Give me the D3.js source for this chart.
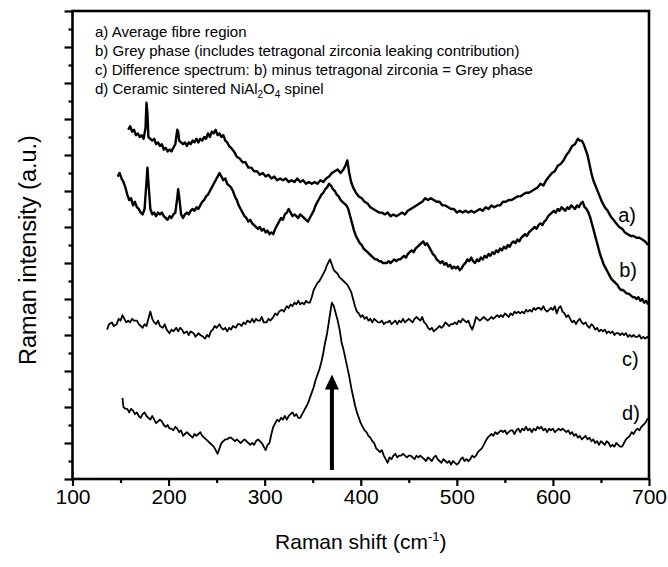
<!DOCTYPE html>
<html>
<head>
<meta charset="utf-8">
<script src="https://cdn.jsdelivr.net/npm/d3@7/dist/d3.min.js"></script>
<style>
  body { margin: 0; background: #fff; }
  svg { display: block; font-family: Arial, "Liberation Sans", sans-serif; }
</style>
</head>
<body>
<svg id="chart"></svg>
<script>
const width = 668;
const height = 567;
const margin = { top: 11, right: 19, bottom: 88, left: 72.5 };

// x ticks (cm-1) and legend lines
const xMajorTicks = [100, 200, 300, 400, 500, 600, 700];
const xMinorTicks = [150, 250, 350, 450, 550, 650];
const legendLines = [
    "a) Average fibre region",
    "b) Grey phase (includes tetragonal zirconia leaking contribution)",
    "c) Difference spectrum: b) minus tetragonal zirconia = Grey phase"
];
const curveNames = ["a)", "b)", "c)", "d)"];
const curveLabelShift = [668, 669, 672, 672];
const curveLabelLevel = [143, 112, 63, 33];
const arrowShift = 370;
const arrowFrom = 5;
const arrowTo = 58;

// spectra: [Raman shift, intensity a.u.]
const spectrumA = [
[158,194],[160,196],[162,193],[164,194],[166,191],[168,192],[170,190],[172,191],[174,189],[176,195],
[177,209],[178,203],[179,190],[181,189],[183,188],[185,189],[187,186],[189,187],[191,185],[193,186],
[195,183],[197,184],[199,182],[201,183],[203,182],[205,184],[207,186],[209,194],[210,193],[211,188],
[213,187],[215,186],[217,187],[219,185],[221,187],[223,186],[225,188],[227,187],[229,189],[231,187],
[233,189],[235,188],[237,190],[239,189],[241,192],[243,190],[245,193],[247,192],[249,194],[251,191],
[253,192],[255,190],[257,191],[259,188],[261,187],[263,185],[265,184],[268,182],[271,179],[274,178],
[277,176],[280,176],[283,173],[286,173],[289,171],[292,171],[295,169],[298,170],[301,168],[304,169],
[307,167],[310,168],[313,166],[316,167],[319,166],[322,167],[325,165],[328,166],[331,165],[334,167],
[337,165],[340,166],[343,164],[346,165],[349,164],[352,165],[355,164],[358,166],[361,165],[364,167],
[367,168],[370,170],[373,171],[376,172],[379,170],[382,172],[384,174],[386,177],[388,170],[390,165],
[392,162],[395,159],[398,157],[401,156],[404,154],[407,153],[410,151],[413,150],[416,149],[419,148],
[422,148],[425,147],[428,148],[431,146],[434,147],[437,146],[440,147],[443,148],[446,147],[449,149],
[452,150],[455,151],[458,152],[461,153],[464,154],[467,156],[470,155],[473,156],[476,155],[479,154],
[482,154],[485,152],[488,152],[491,151],[494,150],[497,150],[500,148],[503,149],[506,148],[509,149],
[512,148],[515,149],[518,148],[521,149],[524,150],[527,149],[530,151],[533,150],[536,152],[539,151],
[542,152],[545,152],[548,154],[551,154],[554,155],[557,155],[560,156],[563,157],[566,157],[569,158],
[572,159],[575,159],[578,160],[581,161],[584,162],[587,164],[590,163],[593,166],[596,168],[599,170],
[602,171],[605,174],[608,175],[611,177],[614,180],[617,182],[620,185],[623,186],[626,189],[628,188],
[630,188],[632,186],[634,183],[636,180],[638,175],[640,170],[642,166],[645,162],[648,158],[651,154],
[654,151],[657,149],[660,146],[663,144],[666,142],[669,140],[672,139],[675,137],[678,136],[681,135],
[684,135],[687,134],[690,134],[693,133],[696,132],[699,130]
];

const spectrumB = [
[147,168],[149,170],[151,167],[153,165],[155,162],[157,158],[159,155],[161,156],[163,152],[165,154],
[167,151],[169,150],[171,148],[173,147],[175,150],[177,165],[178,173],[179,165],[181,150],[183,147],
[185,148],[187,146],[189,148],[191,147],[193,148],[195,146],[197,145],[199,144],[201,146],[203,145],
[205,147],[207,148],[209,156],[210,161],[211,157],[213,147],[215,145],[217,147],[219,148],[221,147],
[223,149],[225,150],[227,149],[229,151],[231,150],[233,152],[235,154],[237,155],[239,157],[241,158],
[243,160],[245,162],[247,164],[249,166],[251,168],[253,170],[255,168],[257,166],[259,167],[261,164],
[263,163],[265,162],[267,160],[269,157],[271,155],[273,152],[275,150],[277,148],[279,146],[281,145],
[283,143],[285,144],[287,142],[289,141],[291,140],[293,139],[295,140],[297,138],[299,139],[301,137],
[303,138],[305,136],[307,137],[309,136],[311,139],[313,141],[315,143],[317,145],[319,144],[321,147],
[323,148],[325,150],[327,148],[329,146],[331,147],[333,146],[335,145],[337,147],[339,146],[341,145],
[343,144],[345,143],[347,145],[349,147],[351,149],[353,152],[355,154],[357,156],[359,158],[361,159],
[363,161],[365,162],[367,164],[369,163],[371,161],[373,160],[375,158],[377,157],[379,155],[381,154],
[383,153],[385,152],[387,150],[389,146],[391,142],[393,138],[395,135],[397,133],[399,131],[401,130],
[403,128],[405,127],[407,126],[409,125],[411,124],[413,123],[415,122],[417,122],[419,121],[421,121],
[423,120],[425,120],[427,120],[429,121],[431,120],[433,121],[435,122],[437,121],[439,122],[441,122],
[443,123],[445,124],[447,123],[449,125],[451,126],[453,127],[455,126],[457,128],[459,129],[461,130],
[463,131],[465,132],[467,130],[469,131],[471,129],[473,127],[475,125],[477,124],[479,122],[481,121],
[483,120],[485,121],[487,119],[489,120],[491,118],[493,119],[495,117],[497,118],[499,117],[501,118],
[503,116],[505,117],[507,119],[509,120],[511,122],[513,121],[515,123],[517,121],[519,120],[521,122],
[523,121],[525,123],[527,122],[529,124],[531,123],[533,125],[535,124],[537,126],[539,125],[541,127],
[543,126],[545,128],[547,127],[549,129],[551,128],[553,130],[555,129],[557,131],[559,132],[561,131],
[563,133],[565,132],[567,134],[569,135],[571,136],[573,135],[575,137],[577,138],[579,139],[581,140],
[583,139],[585,141],[587,142],[589,141],[591,143],[593,144],[595,146],[597,147],[599,148],[601,149],
[603,148],[605,150],[607,149],[609,151],[611,150],[613,149],[615,151],[617,150],[619,152],[621,151],
[623,150],[625,152],[627,151],[629,153],[631,154],[633,151],[635,150],[637,148],[639,145],[641,141],
[643,137],[645,133],[647,129],[649,125],[651,122],[653,119],[655,117],[657,115],[659,113],[661,111],
[663,110],[665,109],[667,108],[669,106],[671,105],[673,105],[675,104],[677,103],[679,103],[681,102],
[683,101],[685,101],[687,100],[689,101],[691,99],[693,100],[695,98],[697,99],[699,97]
];

const spectrumC = [
[136,83],[138,86],[141,87],[143,85],[146,86],[148,89],[150,88],[152,91],[154,89],[156,87],
[158,88],[160,87],[162,89],[164,88],[167,88],[169,86],[171,85],[173,84],[175,86],[177,85],
[179,89],[181,93],[183,89],[185,87],[187,86],[189,88],[191,85],[194,84],[196,86],[198,83],
[201,81],[203,83],[205,82],[208,84],[210,82],[212,84],[214,83],[216,81],[219,82],[221,80],
[223,82],[226,81],[228,79],[231,81],[233,80],[236,79],[238,78],[240,80],[242,79],[244,82],
[246,83],[248,85],[250,84],[253,86],[255,84],[257,83],[259,84],[261,82],[263,84],[265,83],
[267,85],[270,84],[272,86],[274,86],[276,85],[278,87],[280,86],[282,88],[285,87],[287,89],
[289,87],[291,89],[293,88],[295,88],[297,90],[299,87],[302,87],[304,89],[306,88],[309,90],
[311,92],[313,91],[315,93],[318,94],[320,93],[323,96],[325,95],[327,97],[329,96],[331,98],
[333,97],[335,99],[337,97],[339,98],[341,97],[343,99],[345,98],[347,98],[349,101],[351,105],
[353,107],[355,109],[357,110],[359,112],[361,114],[363,116],[365,119],[367,121],[368,122],[370,119],
[372,116],[374,115],[376,114],[378,112],[380,111],[382,110],[384,109],[386,108],[388,106],[390,104],
[392,100],[394,96],[396,93],[398,92],[400,90],[402,91],[404,89],[406,90],[408,88],[410,89],
[412,87],[414,89],[416,88],[418,87],[420,87],[422,88],[424,86],[426,87],[428,87],[430,88],
[432,86],[434,87],[436,88],[438,86],[440,88],[442,87],[444,89],[446,87],[448,88],[450,89],
[452,88],[454,87],[456,89],[458,90],[460,89],[462,88],[464,90],[466,87],[468,86],[470,84],
[472,83],[474,84],[476,82],[478,83],[480,84],[482,85],[484,84],[486,85],[488,87],[490,86],
[492,85],[494,86],[496,86],[498,87],[500,86],[502,88],[504,87],[506,89],[508,88],[510,87],
[512,88],[514,85],[516,83],[518,86],[520,90],[522,89],[524,88],[526,89],[528,90],[530,89],
[532,88],[534,89],[536,90],[538,89],[540,90],[542,91],[544,90],[546,91],[548,90],[550,92],
[552,91],[554,90],[556,92],[558,91],[560,93],[562,92],[564,93],[566,92],[568,93],[570,92],
[572,94],[574,93],[576,94],[578,93],[580,95],[582,94],[584,95],[586,95],[588,94],[590,96],
[592,94],[594,93],[596,94],[598,95],[600,94],[602,96],[604,92],[606,95],[608,96],[610,93],
[612,92],[614,90],[616,91],[618,89],[620,87],[622,88],[624,86],[626,88],[628,89],[630,87],
[632,86],[634,87],[636,85],[638,84],[640,86],[642,85],[644,83],[646,84],[648,82],[650,83],
[652,82],[654,83],[656,81],[658,82],[660,81],[662,82],[664,80],[666,81],[668,81],[670,80],
[672,81],[674,80],[676,81],[678,79],[680,80],[682,79],[684,80],[686,79],[688,79],[690,80],
[692,78],[694,79],[696,78],[698,79],[700,78]
];

const spectrumD = [
[152,45],[153,40],[155,39],[157,39],[159,37],[161,39],[163,38],[165,36],[167,37],[169,35],
[171,34],[173,36],[175,37],[177,35],[179,34],[181,33],[183,35],[185,33],[187,31],[189,32],
[191,33],[193,32],[195,30],[197,29],[199,30],[201,28],[203,28],[205,27],[207,29],[209,28],
[211,26],[213,27],[215,24],[217,25],[219,26],[221,25],[223,24],[225,23],[227,25],[229,24],
[231,25],[233,26],[235,24],[237,23],[239,22],[241,21],[243,20],[245,19],[247,18],[249,16],
[251,14],[253,17],[255,20],[257,21],[259,22],[261,22],[263,23],[265,23],[267,22],[269,21],
[271,22],[273,21],[275,20],[277,21],[279,22],[281,21],[283,20],[285,19],[287,20],[289,19],
[291,21],[293,22],[295,21],[297,20],[299,18],[301,16],[303,19],[305,20],[307,25],[309,29],
[311,31],[313,33],[315,32],[317,34],[319,33],[321,35],[323,33],[325,35],[327,36],[329,37],
[331,35],[333,36],[335,34],[337,34],[339,36],[341,38],[343,40],[345,42],[347,45],[349,48],
[351,51],[353,55],[355,58],[357,61],[359,65],[361,70],[363,76],[365,81],[367,88],[369,95],
[370,98],[372,96],[374,92],[376,88],[378,83],[380,76],[382,72],[384,67],[386,62],[388,57],
[390,51],[392,46],[394,41],[396,37],[398,34],[400,31],[402,29],[404,27],[406,26],[408,24],
[410,23],[412,21],[414,20],[416,17],[418,16],[420,15],[422,16],[424,13],[426,11],[428,9],
[430,12],[432,11],[434,13],[436,14],[438,12],[440,13],[442,13],[444,14],[446,13],[448,12],
[450,13],[452,13],[454,12],[456,11],[458,13],[460,12],[462,13],[464,12],[466,11],[468,10],
[470,12],[472,11],[474,10],[476,12],[478,13],[480,11],[482,10],[484,9],[486,11],[488,10],
[490,9],[492,10],[494,8],[496,10],[498,9],[500,8],[502,9],[504,11],[506,12],[508,10],
[510,11],[512,10],[514,11],[516,13],[518,12],[520,13],[522,15],[524,16],[526,17],[528,19],
[530,21],[532,23],[534,24],[536,25],[538,24],[540,26],[542,25],[544,26],[546,27],[548,26],
[550,27],[552,25],[554,26],[556,27],[558,27],[560,25],[562,27],[564,28],[566,26],[568,28],
[570,27],[572,29],[574,27],[576,28],[578,26],[580,28],[582,27],[584,29],[586,28],[588,29],
[590,27],[592,28],[594,26],[596,28],[598,27],[600,28],[602,26],[604,27],[606,28],[608,27],
[610,28],[612,27],[614,26],[616,27],[618,25],[620,26],[622,24],[624,25],[626,23],[628,24],
[630,22],[632,23],[634,24],[636,22],[638,23],[640,21],[642,22],[644,20],[646,21],[648,19],
[650,21],[652,20],[654,19],[656,21],[658,20],[660,18],[662,19],[664,18],[666,20],[668,19],
[670,18],[672,18],[674,20],[676,22],[678,23],[680,24],[682,26],[684,25],[686,27],[688,28],
[690,27],[692,29],[694,30],[696,31],[698,33],[700,34]
];

const spectra = [
    { name: "a", values: spectrumA, width: 2.4 },
    { name: "b", values: spectrumB, width: 2.4 },
    { name: "c", values: spectrumC, width: 1.8 },
    { name: "d", values: spectrumD, width: 1.8 }
];

const svg = d3.select("#chart")
    .attr("width", width)
    .attr("height", height);

const x = d3.scaleLinear()
    .domain([100, 700])
    .range([margin.left, width - margin.right]);

const y = d3.scaleLinear()
    .domain([0, 260])
    .range([height - margin.bottom, margin.top]);

// spectra
const line = d3.line()
    .x(d => x(d[0]))
    .y(d => y(d[1]));

svg.append("g")
    .selectAll("path")
    .data(spectra)
    .enter().append("path")
    .attr("d", d => line(d.values))
    .attr("fill", "none")
    .attr("stroke", "#000")
    .attr("stroke-width", d => d.width)
    .attr("stroke-linejoin", "round");

// arrow marking the 370 cm-1 band
const ax = x(arrowShift);
svg.append("line")
    .attr("x1", ax).attr("x2", ax)
    .attr("y1", y(arrowFrom)).attr("y2", y(arrowTo) + 12)
    .attr("stroke", "#000")
    .attr("stroke-width", 4);

svg.append("path")
    .attr("d", `M${ax},${y(arrowTo)} L${ax - 7},${y(arrowTo) + 15} L${ax + 7},${y(arrowTo) + 15} Z`)
    .attr("fill", "#000");

// axes
const xAxisMajor = svg.append("g")
    .attr("transform", `translate(0,${height - margin.bottom})`)
    .call(d3.axisBottom(x).tickValues(xMajorTicks).tickSize(7).tickPadding(3).tickFormat(d3.format("d")));

svg.append("g")
    .attr("transform", `translate(0,${height - margin.bottom})`)
    .call(d3.axisBottom(x).tickValues(xMinorTicks).tickSize(4).tickFormat(""));

const yMajor = d3.range(0, 261, 20);
const yMinor = d3.range(10, 260, 20);

svg.append("g")
    .attr("transform", `translate(${margin.left},0)`)
    .call(d3.axisLeft(y).tickValues(yMajor).tickSize(8).tickFormat(""));

svg.append("g")
    .attr("transform", `translate(${margin.left},0)`)
    .call(d3.axisLeft(y).tickValues(yMinor).tickSize(4).tickFormat(""));

svg.selectAll(".domain").remove();
svg.selectAll(".tick line").attr("stroke", "#000").attr("stroke-width", 2.2);

xAxisMajor.selectAll("text")
    .style("font-size", "21px")
    .style("font-family", "Arial, 'Liberation Sans', sans-serif")
    .attr("fill", "#000");

// frame
svg.append("rect")
    .attr("x", margin.left)
    .attr("y", margin.top)
    .attr("width", width - margin.right - margin.left)
    .attr("height", height - margin.bottom - margin.top)
    .attr("fill", "none")
    .attr("stroke", "#000")
    .attr("stroke-width", 2.6);

// axis titles
const xTitle = svg.append("text")
    .attr("x", (margin.left + width - margin.right) / 2)
    .attr("y", 549)
    .attr("text-anchor", "middle")
    .style("font-size", "21px");
xTitle.append("tspan").text("Raman shift (cm");
xTitle.append("tspan").attr("dy", -8).style("font-size", "13px").text("-1");
xTitle.append("tspan").attr("dy", 8).text(")");

svg.append("text")
    .attr("transform", "rotate(-90)")
    .attr("x", -250)
    .attr("y", 36)
    .attr("text-anchor", "middle")
    .style("font-size", "23.5px")
    .text("Raman intensity (a.u.)");

// legend text
const legend = svg.append("g").style("font-size", "15px");
legendLines.forEach((t, i) => {
    legend.append("text")
        .attr("x", 95)
        .attr("y", 37 + i * 19)
        .text(t);
});
const lastLine = legend.append("text")
    .attr("x", 95)
    .attr("y", 37 + 3 * 19);
lastLine.append("tspan").text("d) Ceramic sintered NiAl");
lastLine.append("tspan").attr("dy", 4).style("font-size", "10px").text("2");
lastLine.append("tspan").attr("dy", -4).text("O");
lastLine.append("tspan").attr("dy", 4).style("font-size", "10px").text("4");
lastLine.append("tspan").attr("dy", -4).text(" spinel");

// curve labels
svg.append("g")
    .selectAll("text")
    .data(curveNames)
    .enter().append("text")
    .attr("x", (d, i) => x(curveLabelShift[i]))
    .attr("y", (d, i) => y(curveLabelLevel[i]))
    .style("font-size", "20px")
    .text(d => d);
</script>
</body>
</html>
